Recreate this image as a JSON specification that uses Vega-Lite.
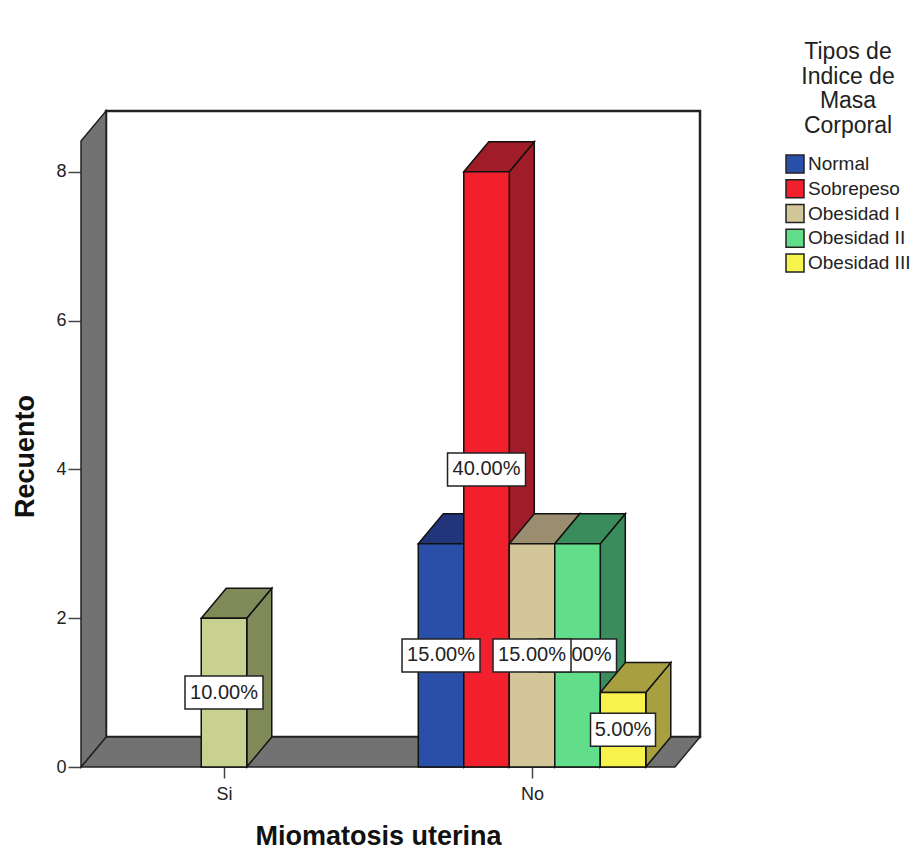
{
  "$schema": "https://vega.github.io/schema/vega-lite/v6.json",
  "width": 619,
  "height": 656,
  "autosize": {"type": "none"},
  "padding": {"left": 81, "top": 111, "right": 215, "bottom": 83},
  "background": "white",
  "config": {
    "view": {"stroke": null},
    "font": "Liberation Sans"
  },
  "datasets": {
    "recuentos": [
      {"miomatosis": "Si", "tipo": "Obesidad I", "recuento": 2, "porcentaje": "10.00%"},
      {"miomatosis": "No", "tipo": "Normal", "recuento": 3, "porcentaje": "15.00%"},
      {"miomatosis": "No", "tipo": "Sobrepeso", "recuento": 8, "porcentaje": "40.00%"},
      {"miomatosis": "No", "tipo": "Obesidad I", "recuento": 3, "porcentaje": "15.00%"},
      {"miomatosis": "No", "tipo": "Obesidad II", "recuento": 3, "porcentaje": "15.00%"},
      {"miomatosis": "No", "tipo": "Obesidad III", "recuento": 1, "porcentaje": "5.00%"}
    ],
    "profundidad": [{"p": 0}, {"p": 1}]
  },
  "layer": [
    {
      "data": {"name": "profundidad"},
      "transform": [{"filter": "datum.p === 1"}],
      "mark": {"type": "rect", "fill": "white", "stroke": "#222222", "strokeWidth": 2.5},
      "encoding": {
        "x": {
          "datum": -2.593,
          "type": "quantitative",
          "scale": {"domain": [-3.143, 10.462], "nice": false, "zero": false},
          "axis": {
            "values": [0, 6.77],
            "labelExpr": "datum.value === 0 ? 'Si' : 'No'",
            "title": "Miomatosis uterina",
            "titleFontSize": 27,
            "titleFontWeight": "bold",
            "titleColor": "#111111",
            "titleX": 297,
            "titleY": 69,
            "titleBaseline": "middle",
            "titleAnchor": "middle",
            "titleAlign": "center",
            "labelFontSize": 18,
            "labelColor": "#222222",
            "labelPadding": 7,
            "labelFlush": false,
            "tickSize": 11,
            "tickColor": "#444444",
            "tickWidth": 1.5,
            "domain": false,
            "grid": false
          }
        },
        "x2": {"datum": 10.462},
        "y": {
          "datum": 0.403,
          "type": "quantitative",
          "scale": {"domain": [0, 8.817], "nice": false, "zero": false},
          "axis": {
            "values": [0, 2, 4, 6, 8],
            "format": "d",
            "title": "Recuento",
            "titleFontSize": 27,
            "titleFontWeight": "bold",
            "titleColor": "#111111",
            "titleX": -56,
            "titleY": 345,
            "titleBaseline": "middle",
            "titleAnchor": "middle",
            "titleAlign": "center",
            "labelFontSize": 18,
            "labelColor": "#222222",
            "labelPadding": 2,
            "tickSize": 13,
            "tickColor": "#444444",
            "tickWidth": 1.5,
            "domain": false,
            "grid": false
          }
        },
        "y2": {"datum": 8.817}
      }
    },
    {
      "data": {"name": "profundidad"},
      "transform": [
        {"calculate": "-3.143 + datum.p * 0.55", "as": "desde"},
        {"calculate": "9.912 + datum.p * 0.55", "as": "hasta"},
        {"calculate": "datum.p * 0.403", "as": "alto"}
      ],
      "mark": {"type": "area", "orient": "horizontal", "fill": "#727272", "stroke": "#222222", "strokeWidth": 1.5},
      "encoding": {
        "x": {"field": "desde", "type": "quantitative"},
        "x2": {"field": "hasta"},
        "y": {"field": "alto", "type": "quantitative"}
      }
    },
    {
      "data": {"name": "profundidad"},
      "transform": [
        {"calculate": "-3.143 + datum.p * 0.55", "as": "lado"},
        {"calculate": "8.414 + datum.p * 0.403", "as": "techo"},
        {"calculate": "datum.p * 0.403", "as": "suelo"}
      ],
      "mark": {"type": "area", "fill": "#727272", "stroke": "#222222", "strokeWidth": 1.5},
      "encoding": {
        "x": {"field": "lado", "type": "quantitative"},
        "y": {"field": "techo", "type": "quantitative"},
        "y2": {"field": "suelo"}
      }
    },
    {
      "data": {"name": "recuentos"},
      "transform": [
        {"calculate": "datum.miomatosis === 'Si' ? 0 : 4.77 + indexof(['Normal','Sobrepeso','Obesidad I','Obesidad II','Obesidad III'], datum.tipo)", "as": "centro"},
        {"calculate": "[0, 1]", "as": "p"},
        {"flatten": ["p"]},
        {"calculate": "datum.centro + 0.5 + datum.p * 0.55", "as": "lado"},
        {"calculate": "datum.recuento + datum.p * 0.403", "as": "techo"},
        {"calculate": "datum.p * 0.403", "as": "suelo"}
      ],
      "mark": {"type": "area", "stroke": "#111111", "strokeWidth": 1.5},
      "encoding": {
        "detail": [{"field": "miomatosis"}, {"field": "tipo"}],
        "x": {"field": "lado", "type": "quantitative"},
        "y": {"field": "techo", "type": "quantitative"},
        "y2": {"field": "suelo"},
        "fill": {
          "condition": {"test": "datum.miomatosis === 'Si'", "value": "#7f8a58"},
          "field": "tipo",
          "type": "nominal",
          "scale": {
            "domain": ["Normal", "Sobrepeso", "Obesidad I", "Obesidad II", "Obesidad III"],
            "range": ["#22357a", "#a01c28", "#9b8d70", "#3b8c5c", "#a8a040"]
          },
          "legend": null
        }
      }
    },
    {
      "data": {"name": "recuentos"},
      "transform": [
        {"calculate": "datum.miomatosis === 'Si' ? 0 : 4.77 + indexof(['Normal','Sobrepeso','Obesidad I','Obesidad II','Obesidad III'], datum.tipo)", "as": "centro"},
        {"calculate": "[0, 1]", "as": "p"},
        {"flatten": ["p"]},
        {"calculate": "datum.centro - 0.5 + datum.p * 0.55", "as": "desde"},
        {"calculate": "datum.centro + 0.5 + datum.p * 0.55", "as": "hasta"},
        {"calculate": "datum.recuento + datum.p * 0.403", "as": "techo"}
      ],
      "mark": {"type": "area", "orient": "horizontal", "stroke": "#111111", "strokeWidth": 1.5},
      "encoding": {
        "detail": [{"field": "miomatosis"}, {"field": "tipo"}],
        "x": {"field": "desde", "type": "quantitative"},
        "x2": {"field": "hasta"},
        "y": {"field": "techo", "type": "quantitative"},
        "fill": {
          "condition": {"test": "datum.miomatosis === 'Si'", "value": "#7f8a58"},
          "field": "tipo",
          "type": "nominal",
          "scale": {
            "domain": ["Normal", "Sobrepeso", "Obesidad I", "Obesidad II", "Obesidad III"],
            "range": ["#22357a", "#a01c28", "#9b8d70", "#3b8c5c", "#a8a040"]
          },
          "legend": null
        }
      }
    },
    {
      "data": {"name": "recuentos"},
      "transform": [
        {"calculate": "datum.miomatosis === 'Si' ? 0 : 4.77 + indexof(['Normal','Sobrepeso','Obesidad I','Obesidad II','Obesidad III'], datum.tipo)", "as": "centro"},
        {"calculate": "datum.centro - 0.5", "as": "desde"},
        {"calculate": "datum.centro + 0.5", "as": "hasta"}
      ],
      "mark": {"type": "rect", "stroke": "#111111", "strokeWidth": 1.5},
      "encoding": {
        "x": {"field": "desde", "type": "quantitative"},
        "x2": {"field": "hasta"},
        "y": {"field": "recuento", "type": "quantitative"},
        "y2": {"datum": 0},
        "fill": {
          "condition": {"test": "datum.miomatosis === 'Si'", "value": "#c9d190"},
          "field": "tipo",
          "type": "nominal",
          "scale": {
            "domain": ["Normal", "Sobrepeso", "Obesidad I", "Obesidad II", "Obesidad III"],
            "range": ["#2a4fa8", "#f2202c", "#d3c698", "#62dd8a", "#f7f24c"]
          },
          "legend": {
            "title": ["Tipos de", "Indice de", "Masa", "Corporal"],
            "orient": "none",
            "legendX": 704,
            "legendY": -70,
            "padding": 0,
            "titleFontSize": 23,
            "titleFontWeight": "normal",
            "titleColor": "#222222",
            "titleLineHeight": 24.7,
            "titleAnchor": "middle",
            "titleAlign": "center",
            "titlePadding": 16,
            "labelFontSize": 19,
            "labelColor": "#222222",
            "labelOffset": 3,
            "symbolType": "square",
            "symbolSize": 324,
            "symbolStrokeColor": "#222222",
            "symbolStrokeWidth": 1.5,
            "rowPadding": 0.7
          }
        }
      }
    },
    {
      "data": {"name": "recuentos"},
      "transform": [
        {"filter": "datum.tipo === 'Obesidad II'"},
        {"calculate": "4.77 + 3", "as": "centro"},
        {"calculate": "datum.centro - length(datum.porcentaje) / 7", "as": "desde"},
        {"calculate": "datum.centro + length(datum.porcentaje) / 7", "as": "hasta"},
        {"calculate": "datum.recuento / 2 + 0.222", "as": "arriba"},
        {"calculate": "datum.recuento / 2 - 0.222", "as": "abajo"}
      ],
      "mark": {"type": "rect", "fill": "white", "stroke": "#222222", "strokeWidth": 1.5},
      "encoding": {
        "x": {"field": "desde", "type": "quantitative"},
        "x2": {"field": "hasta"},
        "y": {"field": "arriba", "type": "quantitative"},
        "y2": {"field": "abajo"}
      }
    },
    {
      "data": {"name": "recuentos"},
      "transform": [
        {"filter": "datum.tipo === 'Obesidad II'"},
        {"calculate": "4.77 + 3", "as": "centro"},
        {"calculate": "datum.recuento / 2", "as": "medio"}
      ],
      "mark": {"type": "text", "fontSize": 20, "color": "#222222", "baseline": "middle"},
      "encoding": {
        "x": {"field": "centro", "type": "quantitative"},
        "y": {"field": "medio", "type": "quantitative"},
        "text": {"field": "porcentaje"}
      }
    },
    {
      "data": {"name": "recuentos"},
      "transform": [
        {"filter": "datum.tipo !== 'Obesidad II'"},
        {"calculate": "datum.miomatosis === 'Si' ? 0 : 4.77 + indexof(['Normal','Sobrepeso','Obesidad I','Obesidad II','Obesidad III'], datum.tipo)", "as": "centro"},
        {"calculate": "datum.centro - length(datum.porcentaje) / 7", "as": "desde"},
        {"calculate": "datum.centro + length(datum.porcentaje) / 7", "as": "hasta"},
        {"calculate": "datum.recuento / 2 + 0.222", "as": "arriba"},
        {"calculate": "datum.recuento / 2 - 0.222", "as": "abajo"}
      ],
      "mark": {"type": "rect", "fill": "white", "stroke": "#222222", "strokeWidth": 1.5},
      "encoding": {
        "x": {"field": "desde", "type": "quantitative"},
        "x2": {"field": "hasta"},
        "y": {"field": "arriba", "type": "quantitative"},
        "y2": {"field": "abajo"}
      }
    },
    {
      "data": {"name": "recuentos"},
      "transform": [
        {"filter": "datum.tipo !== 'Obesidad II'"},
        {"calculate": "datum.miomatosis === 'Si' ? 0 : 4.77 + indexof(['Normal','Sobrepeso','Obesidad I','Obesidad II','Obesidad III'], datum.tipo)", "as": "centro"},
        {"calculate": "datum.recuento / 2", "as": "medio"}
      ],
      "mark": {"type": "text", "fontSize": 20, "color": "#222222", "baseline": "middle"},
      "encoding": {
        "x": {"field": "centro", "type": "quantitative"},
        "y": {"field": "medio", "type": "quantitative"},
        "text": {"field": "porcentaje"}
      }
    }
  ],
  "resolve": {"scale": {"fill": "independent"}}
}
